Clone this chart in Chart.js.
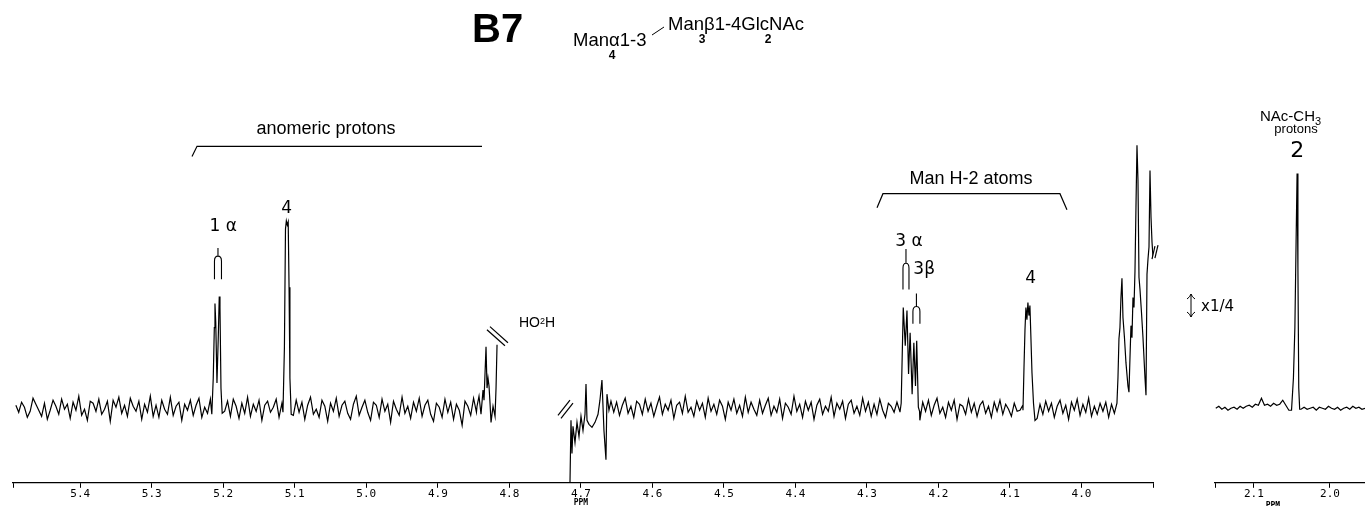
<!DOCTYPE html>
<html><head><meta charset="utf-8">
<script src="https://cdn.jsdelivr.net/npm/chart.js@4.4.1/dist/chart.umd.min.js"></script>
<style>
html,body{margin:0;padding:0;background:#fff;}
#wrap{position:relative;width:1365px;height:506px;overflow:hidden;background:#fff;}
#main{position:absolute;left:0;top:0;}
#inset{position:absolute;left:1160px;top:0;}
</style></head><body>
<div id="wrap"><canvas id="main" width="1365" height="506"></canvas><canvas id="inset" width="205" height="506"></canvas></div>
<script>
// ---------- axis data ----------
const mainTicks = [5.4,5.3,5.2,5.1,5.0,4.9,4.8,4.7,4.6,4.5,4.4,4.3,4.2,4.1,4.0];
const mainRange = [3.90, 5.494];
const insetTicks = [2.1, 2.0];
const insetRange = [1.954, 2.151];

// ---------- main spectrum: baseline noise (ppm grid) ----------
const noiseStart = 5.490, noiseStep = 0.004;
const noise = [
 3,-4,6,1,-9,-3,10,4,-2,-8,5,-11,-2,8,2,-6,9,-1,4,-10,
 6,-2,12,-7,-1,-12,7,5,-3,9,-6,-1,7,-13,8,1,11,-5,3,-8,
 10,2,-3,7,-11,4,-4,12,-8,3,-9,8,-1,-6,11,-7,2,6,-12,4,
 -2,8,-7,3,10,-9,1,-5,9,0,0,0,0,-3,7,-8,9,2,-10,5,
 -5,11,-8,4,-3,8,-12,3,7,-4,1,9,-9,5,0,0,0,-7,8,-4,
 6,-11,3,11,-6,-1,-9,8,2,-13,5,-3,10,-8,3,7,-5,-11,4,12,
 -7,1,8,-4,-12,6,3,-9,9,-3,4,-14,7,-1,-7,11,-5,2,-10,6,
 -3,10,-8,3,8,-6,-13,5,1,-9,9,-4,6,-11,4,-2,-17,7,2,-7,
 10,-4,0,0,0,0,0,0,0,null,null,null,null,null,null,null,null,null,null,null,
 null,null,null,null,null,null,null,null,null,null,null,null,null,null,0,0,0,0,0,0,
 0,0,0,0,0,0,0,0,8,-4,6,-7,3,10,-5,2,-9,7,4,-6,
 9,-3,5,-8,2,11,-6,4,-2,8,-10,3,6,-5,12,-4,1,-8,7,-2,
 5,-9,10,-3,4,-6,8,2,-11,6,-2,9,-5,3,-8,11,-4,6,-1,-7,
 8,-5,3,10,-7,2,-4,9,-10,5,1,-6,12,-3,4,-9,7,-2,6,-11,
 3,9,-6,2,-3,11,-8,5,-1,7,-10,4,8,-5,2,-7,10,-3,6,-8,
 4,-6,9,-2,-9,5,2,-4,6,-3,0,0,0,0,0,0,-12,6,-3,8,
 -7,3,10,-5,1,-9,6,-2,8,-11,4,2,-6,9,-4,5,-8,3,7,-5,
 2,-9,6,-3,8,-6,4,-1,-8,5,-3,-2,3,0,0,0,0,-10,4,-6,
 7,-3,5,-9,2,8,-5,3,-11,6,-2,9,-7,4,-4,10,-8,2,-6,5,
 -3,6,-9,4,-5
];
// ---------- main spectrum: resonances [ppm, intensity] ----------
const peakGlcNAc1a = [[5.2160,-6],[5.2140,30],[5.2125,80],[5.2116,104],[5.2105,85],[5.2088,25],[5.2070,70],[5.2056,111],[5.2046,100],[5.2032,20],[5.2015,-5]];
const peakMan4H1 = [[5.1165,-4],[5.1145,60],[5.1130,178],[5.1118,186],[5.1105,182],[5.1092,185],[5.1080,120],[5.1068,30],[5.1050,-6]];
const hodLeft = [[4.8452,2],[4.8424,12],[4.8396,-6],[4.8368,18],[4.8354,8],[4.8326,61],[4.8312,20],[4.8298,30],[4.8284,22],[4.8270,5],[4.8256,-14],[4.8228,2],[4.8200,-8],[4.8186,20],[4.8172,63]];
const hodRight = [[4.7152,-74],[4.7138,-12],[4.7124,-45],[4.7110,-18],[4.7082,-34],[4.7054,-14],[4.7026,-28],[4.6998,-8],[4.6970,-22],[4.6942,-6],[4.6928,24],[4.6914,-12],[4.6886,-16],[4.6844,-19],[4.6802,-14],[4.6760,-6],[4.6733,8],[4.6705,28],[4.6677,-22],[4.6649,-51],[4.6635,14],[4.6607,-2],[4.6579,7]];
const peakMan3H2 = [[4.2538,-4],[4.2521,5],[4.2492,100],[4.2464,62],[4.2440,97],[4.2418,34],[4.2396,75],[4.2368,14],[4.2344,65],[4.2321,22],[4.2304,67],[4.2281,1],[4.2264,-3]];
const peakMan4H2 = [[4.0818,-2],[4.0804,40],[4.0790,78],[4.0777,100],[4.0763,88],[4.0749,105],[4.0735,92],[4.0721,102],[4.0707,70],[4.0692,35],[4.0671,5],[4.0650,-12]];
const peakH3H4region = [[3.9504,5],[3.9490,30],[3.9476,69],[3.9462,80],[3.9448,110],[3.9434,129],[3.9420,90],[3.9399,70],[3.9378,45],[3.9350,22],[3.9336,16],[3.9322,50],[3.9308,82],[3.9294,70],[3.9280,110],[3.9266,100],[3.9252,136],[3.9238,200],[3.9224,261],[3.9210,226],[3.9196,130],[3.9182,118],[3.9161,95],[3.9140,70],[3.9112,30],[3.9098,13],[3.9084,133],[3.9070,148],[3.9056,160],[3.9042,236],[3.9028,190],[3.9014,165],[3.9000,150]];

// ---------- inset (NAc-CH3, x1/4) ----------
const insetStart = 2.150, insetStep = 0.004;
const insetNoise = [0,2,-1,1,-2,0,1,-1,2,0,2,3,1,4,3,10,3,4,2,5,3,4,8,3,-2,0,0,0,-1,1,-1,0,1,-2,1,0,-1,2,0,-1,1,-2,0,1,-1,2,0,1,-1,0];
const peakNAc = [[2.0505,-2],[2.0480,30],[2.0461,80],[2.0445,165],[2.0432,233],[2.0421,140],[2.0410,20],[2.0398,-1]];

function buildSeries(start, step, values, groups) {
  const pts = [];
  values.forEach((v, i) => {
    const x = +(start - i * step).toFixed(4);
    if (groups.some(g => x <= g[0][0] && x >= g[g.length - 1][0])) return;
    pts.push({x, y: v});
  });
  groups.forEach(g => g.forEach(([x, y]) => pts.push({x, y})));
  pts.sort((a, b) => b.x - a.x);
  return pts;
}

const mainData = buildSeries(noiseStart, noiseStep, noise,
  [peakGlcNAc1a, peakMan4H1, hodLeft, hodRight, peakMan3H2, peakMan4H2, peakH3H4region]);
const insetData = buildSeries(insetStart, insetStep, insetNoise, [peakNAc]);

// ---------- annotations (ppm, intensity) ----------
const peakLabels = [
  ['1 α', 5.2000, 176], ['4', 5.1113, 194], ['3 α', 4.2412, 161],
  ['3β', 4.2200, 133], ['4', 4.0710, 124]
];
const groupLabels = [['anomeric protons', 5.0564, 272], ['Man H-2 atoms', 4.1545, 223]];
const anomericBracket = [[5.2437,250],[5.2367,260],[4.8382,260]];
const manBracket = [[4.2859,199],[4.2776,213],[4.0301,213],[4.0203,197]];
const forks = [[5.2074,159,151,128,3.5],[4.2454,158,144,118,3],[4.2308,114,101,84,3.5]];
const breakMarks = [
  [[4.8271,81],[4.8019,65]], [[4.8313,78],[4.8061,62]],
  [[4.7320,-7],[4.7152,8]], [[4.7278,-10],[4.7110,5]],
  [[3.9014,148],[3.8973,161]], [[3.8973,149],[3.8930,162]]
];

const annotMain = {
  id: 'annotMain',
  afterDraw(chart) {
    const c = chart.ctx, xs = chart.scales.x, ys = chart.scales.y;
    const X = v => xs.getPixelForValue(v), Y = v => ys.getPixelForValue(v);
    c.save();
    c.fillStyle = '#000'; c.strokeStyle = '#000';
    c.textBaseline = 'alphabetic';
    // title
    c.textAlign = 'left';
    c.font = 'bold 40px "Liberation Sans"';
    c.fillText('B7', 472, 42);
    c.font = '18.5px "Liberation Sans"';
    c.fillText('Manα1-3', 573, 46);
    c.fillText('Manβ1-4GlcNAc', 668, 30);
    c.font = 'bold 12px "Liberation Sans"';
    c.textAlign = 'center';
    c.fillText('4', 612, 59);
    c.fillText('3', 702, 43);
    c.fillText('2', 768, 43);
    c.lineWidth = 1; c.beginPath(); c.moveTo(652, 35); c.lineTo(664, 27); c.stroke();
    // group labels + brackets
    c.font = '18px "Liberation Sans"';
    groupLabels.forEach(([t, p, h]) => c.fillText(t, X(p), Y(h)));
    c.lineWidth = 1.2;
    [anomericBracket, manBracket].forEach(b => {
      c.beginPath(); b.forEach(([p, h], i) => i ? c.lineTo(X(p), Y(h)) : c.moveTo(X(p), Y(h))); c.stroke();
    });
    // peak labels
    c.font = '17px "DejaVu Sans"';
    peakLabels.forEach(([t, p, h]) => c.fillText(t, X(p), Y(h)));
    // forks
    c.lineWidth = 1.1;
    forks.forEach(([p, hTop, hFork, hBot, w]) => {
      const x = X(p);
      c.beginPath();
      c.moveTo(x, Y(hTop)); c.lineTo(x, Y(hFork));
      c.moveTo(x - w, Y(hBot)); c.lineTo(x - w, Y(hFork) + 5); c.quadraticCurveTo(x - w, Y(hFork), x, Y(hFork));
      c.quadraticCurveTo(x + w, Y(hFork), x + w, Y(hFork) + 5); c.lineTo(x + w, Y(hBot));
      c.stroke();
    });
    // HO2H
    c.textAlign = 'left';
    c.font = '14px "Liberation Sans"';
    let hx = X(4.7865), hy = Y(81);
    c.fillText('HO', hx, hy); hx += c.measureText('HO').width;
    c.font = '9px "Liberation Sans"'; c.fillText('2', hx, hy - 3); hx += c.measureText('2').width;
    c.font = '14px "Liberation Sans"'; c.fillText('H', hx, hy);
    // break marks
    c.lineWidth = 1.2;
    breakMarks.forEach(([a, b]) => { c.beginPath(); c.moveTo(X(a[0]), Y(a[1])); c.lineTo(X(b[0]), Y(b[1])); c.stroke(); });
    // PPM under 4.7
    c.textAlign = 'center';
    c.font = 'bold 8px "DejaVu Sans Mono"';
    c.fillText('PPM', X(4.7), 505);
    // x1/4 scale marker
    c.lineWidth = 1;
    c.beginPath();
    c.moveTo(1191, 294); c.lineTo(1191, 317);
    c.moveTo(1187, 299); c.quadraticCurveTo(1190, 297, 1191, 294); c.quadraticCurveTo(1192, 297, 1195, 299);
    c.moveTo(1187, 312); c.quadraticCurveTo(1190, 314, 1191, 317); c.quadraticCurveTo(1192, 314, 1195, 312);
    c.stroke();
    c.textAlign = 'left';
    c.font = '15px "DejaVu Sans"';
    c.fillText('x1/4', 1201, 311);
    // NAc-CH3 protons
    c.textAlign = 'left';
    c.font = '15px "Liberation Sans"';
    let nx = 1260;
    c.fillText('NAc-CH', nx, 121); nx += c.measureText('NAc-CH').width;
    c.font = '11px "Liberation Sans"'; c.fillText('3', nx, 125);
    c.textAlign = 'center';
    c.font = '13px "Liberation Sans"';
    c.fillText('protons', 1296, 133);
    c.restore();
  }
};

const annotInset = {
  id: 'annotInset',
  afterDraw(chart) {
    const c = chart.ctx, xs = chart.scales.x, ys = chart.scales.y;
    c.save();
    c.fillStyle = '#000';
    c.textAlign = 'center';
    c.font = '22px "DejaVu Sans"';
    c.fillText('2', xs.getPixelForValue(2.043), ys.getPixelForValue(249));
    c.font = 'bold 8px "DejaVu Sans Mono"';
    c.fillText('PPM', xs.getPixelForValue(2.075), 508);
    c.restore();
  }
};

function makeChart(id, data, range, ticks, padLeft, padRight, plugin) {
  return new Chart(document.getElementById(id), {
    type: 'line',
    data: { datasets: [{ data, borderColor: '#000', borderWidth: 1.2, pointRadius: 0, tension: 0, spanGaps: false, fill: false }] },
    options: {
      responsive: false, animation: false, devicePixelRatio: 1,
      layout: { padding: { left: padLeft, right: padRight, top: 100, bottom: 5 } },
      plugins: { legend: { display: false }, tooltip: { enabled: false } },
      scales: {
        x: {
          type: 'linear', reverse: true, min: range[0], max: range[1],
          afterBuildTicks: s => { s.ticks = [range[0], ...ticks, range[1]].map(v => ({ value: v })); },
          ticks: { autoSkip: false, maxRotation: 0, padding: 0, color: '#000',
                   font: { family: 'DejaVu Sans Mono', size: 11 },
                   callback: v => ticks.includes(v) ? v.toFixed(1) : '' },
          grid: { drawOnChartArea: false, drawTicks: true, tickLength: 5, color: '#000', lineWidth: 1 },
          border: { display: true, color: '#000', width: 1.2 }
        },
        y: { display: false, min: -74, max: 306 }
      }
    },
    plugins: [plugin]
  });
}

makeChart('main', mainData, mainRange, mainTicks, 13, 212, annotMain);
makeChart('inset', insetData, insetRange, insetTicks, 55, 0, annotInset);
</script>
</body></html>
